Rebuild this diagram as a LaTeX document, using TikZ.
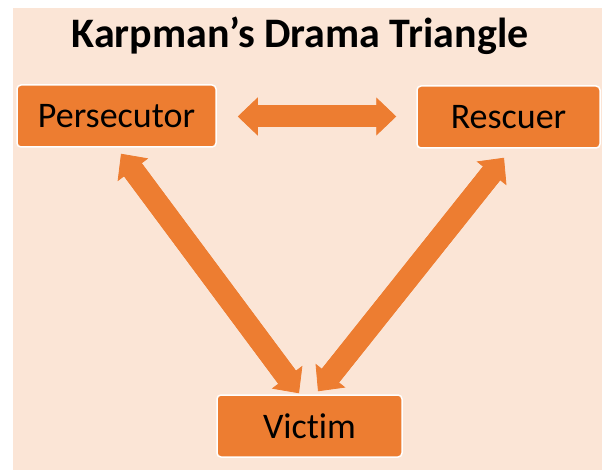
\documentclass[tikz,border=0pt]{standalone}
\usepackage{fontspec}
\setmainfont[Ligatures={NoCommon,NoContextual}]{Carlito}
\usepackage{xcolor}
\usetikzlibrary{arrows.meta, positioning}

\definecolor{dramaorange}{HTML}{ED7D31}
\definecolor{dramapeach}{HTML}{FBE5D6}

\begin{document}
\begin{tikzpicture}[x=1pt, y=-1pt,
        role/.style={rectangle, rounded corners=4pt, draw=white, line width=1.5pt, fill=dramaorange, align=center, minimum height=62pt, inner sep=0pt, font=\fontsize{36}{40}\selectfont},
        swap/.style={draw=dramaorange, line width=22pt, line cap=butt, {Triangle[width=38pt, length=20pt, line width=0.8pt]}-{Triangle[width=38pt, length=20pt, line width=0.8pt]},
            preaction={draw=dramaorange, line width=22pt, arrows=-, shorten >=14pt, shorten <=14pt}}]

        \useasboundingbox (0,0) rectangle (602,470);
        \fill[dramapeach] (13,8) rectangle (602,470);

        % Nodes
        \node[anchor=base, font=\bfseries\fontsize{42}{46}\selectfont] (title) at (300,48) {Karpman’s Drama Triangle};
        \node[role, minimum width=199pt] (pers) at (116.5,116) {Persecutor};
        \node[role, minimum width=183pt] (resc) at (508.5,117) {Rescuer};
        \node[role, minimum width=185pt] (vict) at (309.5,426) {Victim};

        % Edges
        \draw[swap] ([shift={(21,0.5)}]pers.east) -- ([shift={(-20,-0.5)}]resc.west);
        \draw[swap] ([shift={(4.5,6)}]pers.south) -- ([shift={(-10.5,-1)}]vict.north);
        \draw[swap] ([shift={(-4.5,9)}]resc.south) -- ([shift={(8.5,-3)}]vict.north);
    \end{tikzpicture}
\end{document}
